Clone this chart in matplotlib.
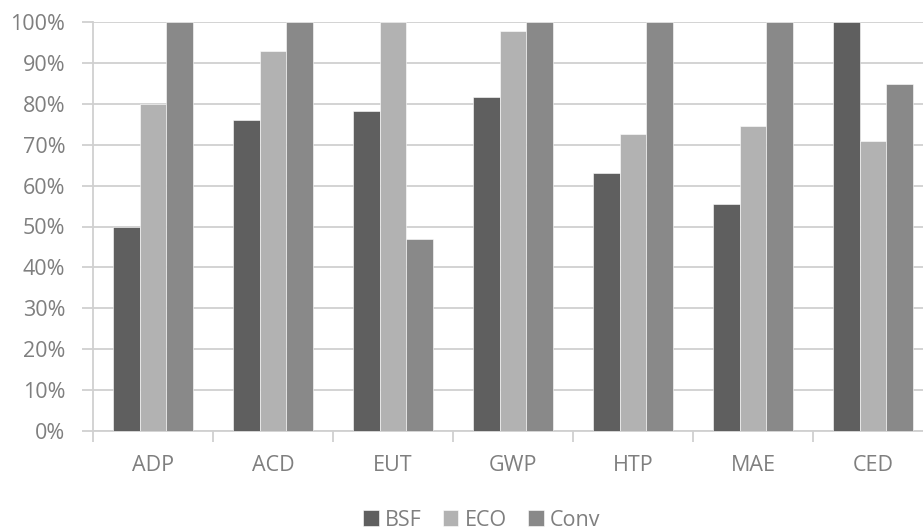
import matplotlib.pyplot as plt
from matplotlib.ticker import FixedLocator, PercentFormatter
import numpy as np

# --- data ---
categories = ["ADP", "ACD", "EUT", "GWP", "HTP", "MAE", "CED"]
bsf = [50.0, 76.0, 78.3, 81.7, 63.2, 55.6, 100.0]
eco = [80.0, 93.0, 100.0, 97.9, 72.7, 74.6, 70.8]
conv = [100.0, 100.0, 47.0, 100.0, 100.0, 100.0, 84.9]
series_names = ["BSF", "ECO", "Conv"]

colors = ["#5f5f5f", "#b2b2b2", "#898989"]
grid_c = "#d0d0d0"
text_c = "#7f7f7f"

plt.rcParams["font.family"] = ["Open Sans", "DejaVu Sans"]

W, H = 923, 531
fig = plt.figure(figsize=(W / 100, H / 100), dpi=100)
ax = fig.add_axes([93 / W, 1 - 431 / H, (923 - 93) / W, (431 - 22) / H])

x = np.arange(len(categories))
bw = 0.2222
for k, vals in enumerate([bsf, eco, conv]):
    ax.bar(x + (k - 1) * bw, vals, width=bw, color=colors[k],
           edgecolor="white", linewidth=0.4, label=series_names[k], zorder=3)

ax.set_ylim(0, 100)
ax.set_xlim(-0.5, len(categories) - 0.5 - 10 / 120)
ax.set_yticks(np.arange(0, 101, 10))
ax.yaxis.set_major_formatter(PercentFormatter(decimals=0))
ax.grid(axis="y", color=grid_c, linewidth=1.3, zorder=0)

ax.set_xticks(x)
ax.set_xticklabels(categories)
ax.xaxis.set_minor_locator(FixedLocator(np.arange(-0.5, len(categories), 1)))
ax.tick_params(axis="x", which="major", length=0, pad=17, labelsize=15.5, labelcolor=text_c)
ax.tick_params(axis="x", which="minor", length=8, width=1.3, color=grid_c)
ax.tick_params(axis="y", length=8, width=1.3, color=grid_c, labelsize=15.5,
               labelcolor=text_c, pad=12)

for s in ["top", "right"]:
    ax.spines[s].set_visible(False)
for s in ["left", "bottom"]:
    ax.spines[s].set_color(grid_c)
    ax.spines[s].set_linewidth(1.3)

leg = fig.legend(loc="center", bbox_to_anchor=(482 / W, 1 - 520 / H), ncol=3,
                 frameon=False, fontsize=15.5, handlelength=0.7, handleheight=0.7,
                 handletextpad=0.3, columnspacing=1.0)
for t in leg.get_texts():
    t.set_color(text_c)

fig.savefig("out.png", dpi=100)
